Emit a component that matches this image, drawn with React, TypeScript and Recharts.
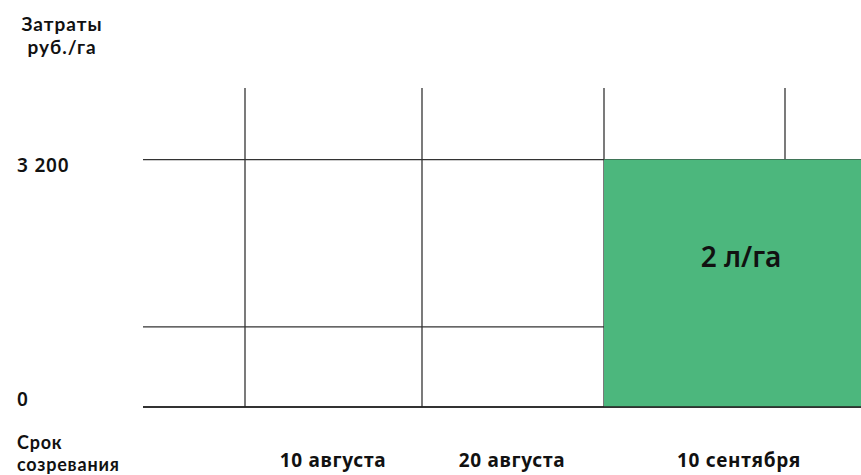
import React from "react";
import { ComposedChart, XAxis, YAxis, CartesianGrid, ReferenceArea } from "recharts";

// Maturity dates (x-axis labels) and their positions on a numeric axis
const maturityLabels = ["10 августа", "20 августа", "10 сентября"];
const labelPositions = [1.9, 3.69, 5.96];
// Column boundaries (vertical grid lines)
const gridPositions = [1.02, 2.79, 4.61, 6.42];
const xDomain = [0, 7.18];

// Cost axis
const yTicks = [0, 1035, 3200];
const yTickLabels = ["0", "", "3 200"];
const yDomain = [0, 4125];

// Cost block
const costStart = [4.61];
const costEnd = [7.18];
const costValue = [3200];
const costLabel = ["2 л/га"];

const FONT = "'Noto Sans', 'DejaVu Sans', sans-serif";
const FONT2 = "Lato, 'Noto Sans', sans-serif";
const GREEN = "#4CB77D";

const XTick = (props: any) => {
  const { x, y, payload } = props;
  const idx = labelPositions.indexOf(payload.value);
  return (
    <text
      x={x}
      y={y + 60}
      textAnchor="middle"
      fontFamily={FONT}
      fontWeight={700}
      fontSize={19}
      letterSpacing={0.7}
      fill="#111"
    >
      {idx >= 0 ? maturityLabels[idx] : ""}
    </text>
  );
};

const YTick = (props: any) => {
  const { y, payload } = props;
  const idx = yTicks.indexOf(payload.value);
  const label = idx >= 0 ? yTickLabels[idx] : "";
  const dy = payload.value === 0 ? -1 : 12;
  return (
    <text
      x={17}
      y={y + dy}
      textAnchor="start"
      fontFamily={FONT}
      fontWeight={600}
      fontSize={19}
      letterSpacing={0.8}
      fill="#111"
    >
      {label}
    </text>
  );
};

export default function App() {
  return (
    <div style={{ position: "relative", width: 861, height: 475, overflow: "hidden", fontFamily: FONT }}>
      <style>{`html,body{margin:0;padding:0;overflow:hidden;}`}</style>
      <div
        style={{
          position: "absolute",
          left: 12,
          top: 12,
          width: 100,
          textAlign: "center",
          fontFamily: FONT2,
          fontSize: 19,
          fontWeight: 700,
          lineHeight: "23px",
          letterSpacing: 1,
          color: "#111",
        }}
      >
        Затраты
        <br />
        руб./га
      </div>
      <div
        style={{
          position: "absolute",
          left: 17,
          top: 432,
          fontFamily: FONT2,
          fontSize: 18,
          fontWeight: 700,
          lineHeight: "21.7px",
          letterSpacing: 0.8,
          color: "#111",
        }}
      >
        Срок
        <br />
        созревания
      </div>
      <ComposedChart
        width={861}
        height={475}
        data={[]}
        margin={{ top: 88, right: 0, bottom: 0, left: 0 }}
      >
        <CartesianGrid
          stroke="#333"
          strokeWidth={1.3}
          horizontalValues={yTicks}
          verticalValues={gridPositions}
        />
        <XAxis
          type="number"
          dataKey="x"
          domain={xDomain}
          ticks={labelPositions}
          interval={0}
          tick={<XTick />}
          tickLine={false}
          tickSize={0}
          tickMargin={0}
          height={68}
          axisLine={{ stroke: "#222", strokeWidth: 1.3 }}
          allowDataOverflow
        />
        <YAxis
          type="number"
          domain={yDomain}
          ticks={yTicks}
          interval={0}
          tick={<YTick />}
          tickLine={false}
          axisLine={false}
          width={143}
          allowDataOverflow
        />
        <ReferenceArea
          x1={costStart[0]}
          x2={costEnd[0]}
          y1={0}
          y2={costValue[0]}
          fill={GREEN}
          fillOpacity={1}
          stroke="none"
          ifOverflow="visible"
          label={(p: any) => {
            const vb = p.viewBox;
            return (
              <text
                x={vb.x + vb.width / 2 + 8.5}
                y={vb.y + vb.height / 2 - 16}
                textAnchor="middle"
                fontFamily={FONT}
                fontWeight={600}
                fontSize={28}
                fill="#111"
              >
                {costLabel[0]}
              </text>
            );
          }}
        />
      </ComposedChart>
    </div>
  );
}
